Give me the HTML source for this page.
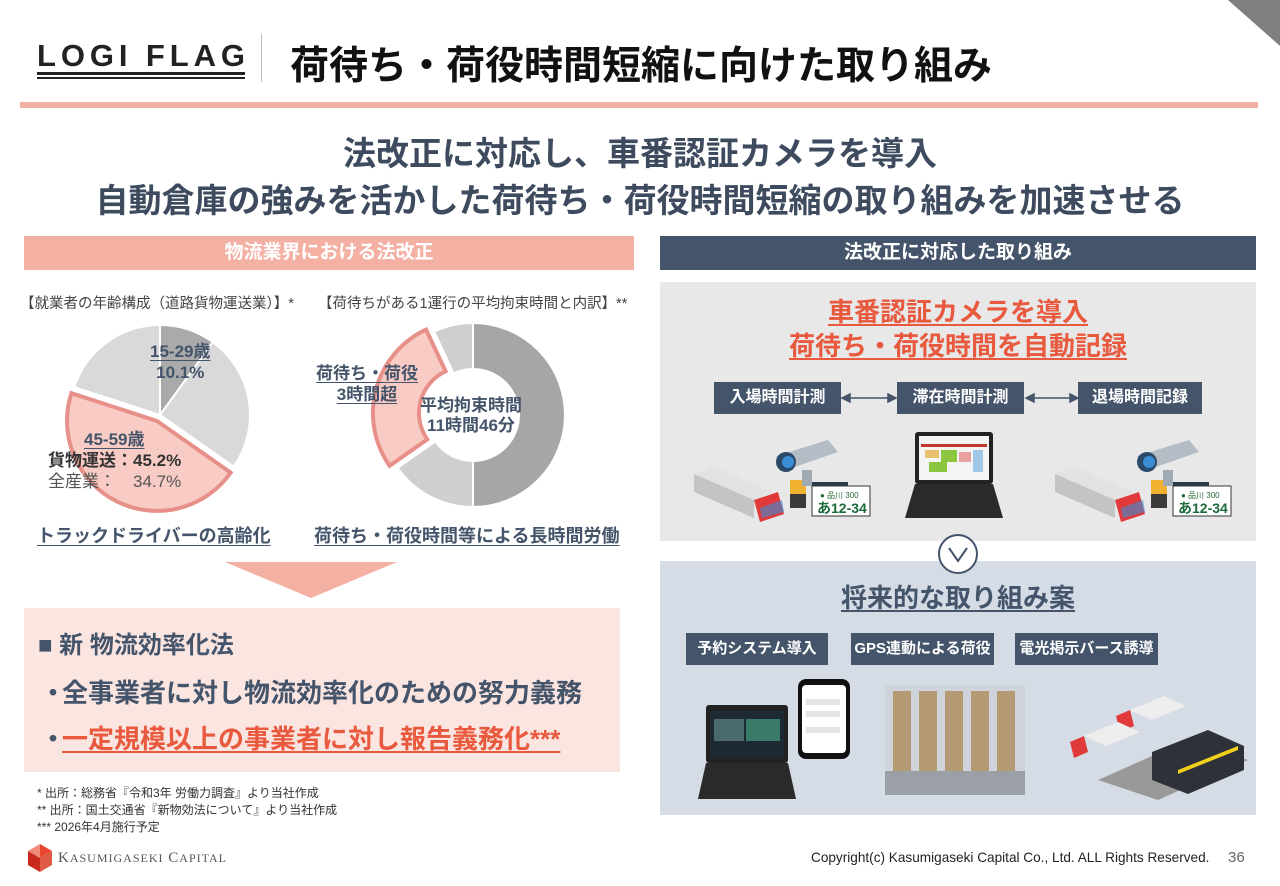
<!DOCTYPE html>
<html><head><meta charset="utf-8">
<style>
*{margin:0;padding:0;box-sizing:border-box}
body{width:1280px;height:886px;position:relative;background:#fff;font-family:"Liberation Sans","Noto Sans CJK JP",sans-serif;overflow:hidden;color:#333}
.a{position:absolute;white-space:nowrap}
.b{font-weight:bold}
.band{position:absolute;color:#fff;font-weight:bold;font-size:19px;text-align:center;line-height:34px}
.lbl{position:absolute;background:#44546a;color:#fff;font-weight:bold;font-size:16px;text-align:center;line-height:32px;white-space:nowrap}
.u{text-decoration:underline;text-underline-offset:3px}
.dot{display:inline-block;width:22px;text-align:center}
</style></head><body>
<svg class="a" style="left:1228px;top:0" width="52" height="46"><polygon points="0,0 52,0 52,46" fill="#7f7f7f"/></svg>
<svg class="a" style="left:36px;top:36px" width="212" height="46"><text x="1" y="30" font-size="31" font-weight="bold" fill="#222" textLength="208" lengthAdjust="spacing" font-family="Liberation Sans Narrow,Liberation Sans,sans-serif">LOGI FLAG</text><rect x="1" y="36" width="208" height="3" fill="#222"/><rect x="1" y="41" width="208" height="2" fill="#222"/></svg>
<div class="a" style="left:261px;top:34px;width:1px;height:48px;background:#bbb"></div>
<div class="a b" style="left:290px;top:35px;font-size:39px;color:#111">荷待ち・荷役時間短縮に向けた取り組み</div>
<div class="a" style="left:20px;top:102px;width:1238px;height:6px;background:#f2b0a4"></div>

<div class="a b" style="left:0;width:1280px;top:127px;text-align:center;font-size:33px;color:#3e4b5e">法改正に対応し、車番認証カメラを導入</div>
<div class="a b" style="left:0;width:1280px;top:174px;text-align:center;font-size:33px;color:#3e4b5e">自動倉庫の強みを活かした荷待ち・荷役時間短縮の取り組みを加速させる</div>

<div class="band" style="left:24px;top:236px;width:610px;height:34px;background:#f4b0a3">物流業界における法改正</div>
<div class="band" style="left:660px;top:236px;width:596px;height:34px;background:#44546a">法改正に対応した取り組み</div>

<div class="a" style="left:20px;top:292px;font-size:14.5px;color:#444">【就業者の年齢構成（道路貨物運送業）】*</div>
<div class="a" style="left:318px;top:292px;font-size:14.5px;color:#444">【荷待ちがある1運行の平均拘束時間と内訳】**</div>

<svg class="a" style="left:0;top:300px" width="640" height="230" viewBox="0 300 640 230">
<path d="M160,415 L160,325 A90,90 0 0 1 212.9,342.2 Z" fill="#aaa" stroke="#fff" stroke-width="2"/>
<path d="M160,415 L212.9,342.2 A90,90 0 0 1 233.7,466.6 Z" fill="#d9d9d9" stroke="#fff" stroke-width="2"/>
<path d="M160,415 L74.4,387.2 A90,90 0 0 1 160,325 Z" fill="#d9d9d9" stroke="#fff" stroke-width="2"/>
<path d="M157,421 L230.7,472.6 A90,90 0 0 1 71.4,393.2 Z" fill="#f8cbc4" stroke="#e7908a" stroke-width="4"/>
<path d="M473,323 A92,92 0 0 1 473,507 L473,461 A46,46 0 0 0 473,369 Z" fill="#a6a6a6" stroke="#fff" stroke-width="2"/>
<path d="M473,507 A92,92 0 0 1 397.6,467.8 L435.3,441.4 A46,46 0 0 0 473,461 Z" fill="#cfcfcf" stroke="#fff" stroke-width="2"/>
<path d="M434.1,331.6 A92,92 0 0 1 473,323 L473,369 A46,46 0 0 0 453.6,373.3 Z" fill="#cfcfcf" stroke="#fff" stroke-width="2"/>
<path d="M389.6,465.8 A92,92 0 0 1 426.1,329.6 L445.6,371.3 A46,46 0 0 0 427.3,439.4 Z" fill="#f8cbc4" stroke="#e7908a" stroke-width="4"/>
</svg>
<div class="a b" style="left:150px;top:341px;font-size:17px;color:#44546a;text-align:center;line-height:21px"><span class="u">15-29歳</span><br>10.1%</div>
<div class="a b" style="left:48px;top:429px;font-size:17px;color:#333;line-height:21px"><span class="u" style="margin-left:36px;color:#44546a">45-59歳</span><br>貨物運送：45.2%<br><span style="font-weight:normal;color:#555">全産業：　34.7%</span></div>
<div class="a b" style="left:316px;top:363px;font-size:17px;color:#44546a;text-align:center;line-height:21px"><span class="u">荷待ち・荷役</span><br><span class="u">3時間超</span></div>
<div class="a b" style="left:420px;top:396px;font-size:17px;color:#44546a;text-align:center;line-height:20px">平均拘束時間<br>11時間46分</div>
<div class="a b u" style="left:37px;top:522px;font-size:18px;color:#44546a">トラックドライバーの高齢化</div>
<div class="a b u" style="left:314px;top:522px;font-size:18px;color:#44546a">荷待ち・荷役時間等による長時間労働</div>

<svg class="a" style="left:225px;top:562px" width="172" height="36"><polygon points="0,0 172,0 86,36" fill="#f4b0a3"/></svg>
<div class="a" style="left:24px;top:608px;width:596px;height:164px;background:#fbe5e1"></div>
<div class="a b" style="left:38px;top:625px;font-size:24px;color:#44546a">■ 新 物流効率化法</div>
<div class="a b" style="left:40px;top:673px;font-size:26px;color:#44546a"><span class="dot">・</span>全事業者に対し物流効率化のための努力義務</div>
<div class="a b" style="left:40px;top:719px;font-size:26px;color:#44546a"><span class="dot">・</span><span class="u" style="color:#e8593e">一定規模以上の事業者に対し報告義務化***</span></div>
<div class="a" style="left:37px;top:785px;font-size:12px;color:#333;line-height:17px">* 出所：総務省『令和3年 労働力調査』より当社作成<br>** 出所：国土交通省『新物効法について』より当社作成<br>*** 2026年4月施行予定</div>

<svg class="a" style="left:28px;top:844px" width="24" height="28"><polygon points="12,0 24,7 12,14" fill="#e8442e"/><polygon points="0,7 12,0 12,14" fill="#f08a7a"/><polygon points="0,7 12,14 12,28 0,21" fill="#c82a1c"/><polygon points="12,14 24,7 24,21 12,28" fill="#e05a48"/></svg>
<div class="a" style="left:58px;top:850px;font-size:15px;letter-spacing:1px;color:#555;font-family:'Liberation Serif',serif">K<span style="font-size:12px">ASUMIGASEKI</span> C<span style="font-size:12px">APITAL</span></div>
<div class="a" style="left:811px;top:850px;font-size:13.6px;color:#222">Copyright(c) Kasumigaseki Capital Co., Ltd. ALL Rights Reserved.</div>
<div class="a" style="left:1228px;top:849px;font-size:15px;color:#666">36</div>

<div class="a" style="left:660px;top:282px;width:596px;height:259px;background:#e8e8e8"></div>
<div class="a b u" style="left:660px;width:596px;top:295px;text-align:center;font-size:26px;color:#e8593e;line-height:34px">車番認証カメラを導入<br>荷待ち・荷役時間を自動記録</div>
<div class="lbl" style="left:714px;top:382px;width:127px">入場時間計測</div>
<div class="lbl" style="left:897px;top:382px;width:127px">滞在時間計測</div>
<div class="lbl" style="left:1078px;top:382px;width:124px">退場時間記録</div>
<svg class="a" style="left:840px;top:390px" width="240" height="16"><g stroke="#44546a" stroke-width="1.5" fill="#44546a"><line x1="8" y1="8" x2="50" y2="8"/><polygon points="2,8 10,4 10,12"/><polygon points="56,8 48,4 48,12"/><line x1="192" y1="8" x2="232" y2="8"/><polygon points="186,8 194,4 194,12"/><polygon points="238,8 230,4 230,12"/></g></svg>

<svg class="a" style="left:690px;top:430px" width="190" height="92"><g>
<polygon points="4,44 22,36 82,62 64,70" fill="#e2e2e2"/><polygon points="4,44 64,70 64,88 4,62" fill="#c4c4c4"/>
<polygon points="64,70 88,62 94,84 70,92" fill="#e03a3a"/><polygon points="70,78 92,70 94,82 72,88" fill="#3a8ed6" opacity=".6"/>
<rect x="100" y="52" width="16" height="26" fill="#3a3a3a"/><rect x="100" y="50" width="16" height="14" fill="#f0b030"/>
<polygon points="86,26 138,10 148,22 96,40" fill="#b4bcc6"/><circle cx="96" cy="32" r="10" fill="#2b4a6a"/><circle cx="98" cy="32" r="6" fill="#3b8ed6"/>
<rect x="112" y="40" width="10" height="16" fill="#a0aab4"/><rect x="122" y="52" width="36" height="8" fill="#2b3a4a"/>
<rect x="122" y="56" width="58" height="30" fill="#fff" stroke="#333"/></g>
<text x="130" y="68" font-size="8" fill="#2a6a3a" font-family="Liberation Sans,Noto Sans CJK JP,sans-serif">● 品川 300</text>
<text x="127" y="83" font-size="14" font-weight="bold" fill="#1a6a3a" font-family="Liberation Sans,Noto Sans CJK JP,sans-serif">あ12-34</text></svg>
<svg class="a" style="left:1051px;top:430px" width="190" height="92"><g>
<polygon points="4,44 22,36 82,62 64,70" fill="#e2e2e2"/><polygon points="4,44 64,70 64,88 4,62" fill="#c4c4c4"/>
<polygon points="64,70 88,62 94,84 70,92" fill="#e03a3a"/><polygon points="70,78 92,70 94,82 72,88" fill="#3a8ed6" opacity=".6"/>
<rect x="100" y="52" width="16" height="26" fill="#3a3a3a"/><rect x="100" y="50" width="16" height="14" fill="#f0b030"/>
<polygon points="86,26 138,10 148,22 96,40" fill="#b4bcc6"/><circle cx="96" cy="32" r="10" fill="#2b4a6a"/><circle cx="98" cy="32" r="6" fill="#3b8ed6"/>
<rect x="112" y="40" width="10" height="16" fill="#a0aab4"/><rect x="122" y="52" width="36" height="8" fill="#2b3a4a"/>
<rect x="122" y="56" width="58" height="30" fill="#fff" stroke="#333"/></g>
<text x="130" y="68" font-size="8" fill="#2a6a3a" font-family="Liberation Sans,Noto Sans CJK JP,sans-serif">● 品川 300</text>
<text x="127" y="83" font-size="14" font-weight="bold" fill="#1a6a3a" font-family="Liberation Sans,Noto Sans CJK JP,sans-serif">あ12-34</text></svg>
<svg class="a" style="left:905px;top:432px" width="100" height="90"><rect x="10" y="0" width="78" height="52" rx="3" fill="#222"/><rect x="14" y="4" width="70" height="44" fill="#f4f4f4"/><rect x="16" y="12" width="66" height="3" fill="#c0392b"/><rect x="20" y="18" width="14" height="8" fill="#e8c070"/><rect x="36" y="18" width="16" height="12" fill="#8cc63f"/><rect x="54" y="20" width="12" height="10" fill="#e8a0a0"/><rect x="24" y="30" width="18" height="10" fill="#8cc63f"/><rect x="68" y="18" width="10" height="22" fill="#a0c8e8"/><polygon points="10,52 88,52 98,86 0,86" fill="#2a2a2a"/></svg>

<div class="a" style="left:660px;top:561px;width:596px;height:254px;background:#d6dce5"></div>
<svg class="a" style="left:937px;top:533px" width="42" height="42"><circle cx="21" cy="21" r="19" fill="#fff" stroke="#44546a" stroke-width="2"/><polyline points="12,15 21,28 30,15" fill="none" stroke="#44546a" stroke-width="2"/></svg>
<div class="a b u" style="left:660px;width:596px;top:578px;text-align:center;font-size:26px;color:#44546a">将来的な取り組み案</div>
<div class="lbl" style="left:686px;top:633px;width:142px;font-size:15px">予約システム導入</div>
<div class="lbl" style="left:851px;top:633px;width:143px;font-size:15px">GPS連動による荷役</div>
<div class="lbl" style="left:1015px;top:633px;width:143px;font-size:15px">電光掲示バース誘導</div>
<svg class="a" style="left:690px;top:675px" width="170" height="126"><rect x="16" y="30" width="82" height="58" rx="3" fill="#222"/><rect x="20" y="36" width="74" height="46" fill="#1d2a33"/><rect x="24" y="44" width="30" height="22" fill="#4a6a70"/><rect x="56" y="44" width="34" height="22" fill="#3a7a68"/><polygon points="16,88 98,88 106,124 8,124" fill="#2a2a2a"/><rect x="108" y="4" width="52" height="80" rx="8" fill="#111"/><rect x="112" y="10" width="44" height="68" rx="4" fill="#fff"/><rect x="116" y="24" width="34" height="6" fill="#e4e4e4"/><rect x="116" y="36" width="34" height="6" fill="#e4e4e4"/><rect x="116" y="52" width="34" height="6" fill="#e4e4e4"/></svg>
<svg class="a" style="left:885px;top:685px" width="140" height="110"><rect width="140" height="110" fill="#c8ccd0" opacity=".5"/><g fill="#b49a74"><rect x="8" y="6" width="18" height="80"/><rect x="34" y="6" width="18" height="80"/><rect x="60" y="6" width="18" height="80"/><rect x="86" y="6" width="18" height="80"/><rect x="112" y="6" width="18" height="80"/></g><g fill="#9aa0a6"><rect x="0" y="86" width="140" height="24"/></g></svg>
<svg class="a" style="left:1068px;top:690px" width="180" height="110"><polygon points="30,90 120,50 180,70 90,110" fill="#999"/><polygon points="62,20 96,6 118,16 84,30" fill="#eee"/><polygon points="48,26 62,20 66,36 52,42" fill="#e03a3a"/><polygon points="16,46 50,32 72,42 38,56" fill="#eee"/><polygon points="2,52 16,46 20,62 6,68" fill="#e03a3a"/><polygon points="84,62 140,40 176,56 176,80 120,104 84,90" fill="#2e3238"/><polygon points="110,80 170,56 170,60 110,84" fill="#f0d020"/></svg>
</body></html>
